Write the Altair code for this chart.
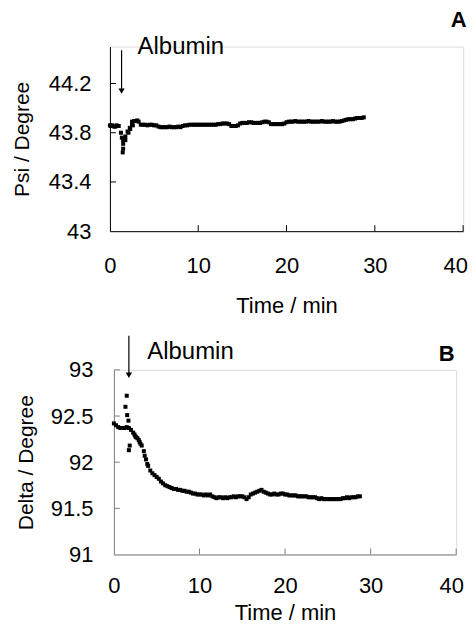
import altair as alt
import pandas as pd

# ---------------- data ----------------
time = [0, 0.25, 0.5, 0.75, 1.0, 1.25, 1.5, 1.75, 2.0, 2.25, 2.5, 2.75, 3.0, 3.25,
        3.5, 3.75, 4.0, 4.25, 4.5, 4.75, 5.0, 5.25, 5.5, 5.75, 6.0, 6.25, 6.5, 6.75,
        7.0, 7.25, 7.5, 7.75, 8.0, 8.25, 8.5, 8.75, 9.0, 9.25, 9.5, 9.75, 10.0, 10.25,
        10.5, 10.75, 11.0, 11.25, 11.5, 11.75, 12.0, 12.25, 12.5, 12.75, 13.0, 13.25,
        13.5, 13.75, 14.0, 14.25, 14.5, 14.75, 15.0, 15.25, 15.5, 15.75, 16.0, 16.25,
        16.5, 16.75, 17.0, 17.25, 17.5, 17.75, 18.0, 18.25, 18.5, 18.75, 19.0, 19.25,
        19.5, 19.75, 20.0, 20.25, 20.5, 20.75, 21.0, 21.25, 21.5, 21.75, 22.0, 22.25,
        22.5, 22.75, 23.0, 23.25, 23.5, 23.75, 24.0, 24.25, 24.5, 24.75, 25.0, 25.25,
        25.5, 25.75, 26.0, 26.25, 26.5, 26.75, 27.0, 27.25, 27.5, 27.75, 28.0, 28.25,
        28.5, 28.75]

psi = [43.86, 43.86, 43.85, 43.86, 43.855,
       43.80, 43.74, 43.77, 43.81, 43.84, 43.87, 43.895, 43.895, 43.89,
       43.865, 43.865, 43.865, 43.86, 43.865, 43.865, 43.86, 43.86,
       43.85, 43.845, 43.845, 43.845, 43.845, 43.85, 43.845, 43.845, 43.845, 43.85, 43.845, 43.855,
       43.86, 43.86, 43.865, 43.865, 43.865, 43.865, 43.865, 43.865, 43.865, 43.865, 43.865,
       43.865, 43.865, 43.865, 43.865, 43.87, 43.87,
       43.875, 43.875, 43.875, 43.87,
       43.855, 43.855, 43.855, 43.86,
       43.875, 43.88, 43.88, 43.88, 43.885, 43.885, 43.88, 43.88, 43.88, 43.88, 43.885,
       43.89, 43.89, 43.885,
       43.87, 43.87, 43.87, 43.87, 43.87, 43.87, 43.875,
       43.885, 43.89, 43.89, 43.89, 43.895, 43.89, 43.89, 43.89, 43.89, 43.89, 43.895, 43.89,
       43.89, 43.89, 43.89, 43.89, 43.895, 43.89, 43.89, 43.89, 43.89, 43.895, 43.89, 43.89,
       43.89, 43.895,
       43.90, 43.905, 43.91, 43.91, 43.91,
       43.915, 43.92, 43.92, 43.92, 43.925]

delta = [92.42, 92.40, 92.38, 92.37, 92.37, 92.37, 92.38, 92.37, 92.35, 92.32, 92.28, 92.26,
         92.22, 92.18, 92.12, 92.03, 91.96, 91.91, 91.88, 91.86, 91.84, 91.82, 91.79, 91.77,
         91.75, 91.74, 91.73, 91.72, 91.71, 91.71, 91.70, 91.70, 91.69, 91.69, 91.68, 91.68,
         91.67, 91.66, 91.66, 91.65, 91.65, 91.65, 91.64, 91.65, 91.64, 91.65, 91.63, 91.62,
         91.61, 91.62, 91.62, 91.61, 91.62, 91.61, 91.62, 91.62, 91.63, 91.62, 91.63, 91.63,
         91.63, 91.62, 91.60, 91.62, 91.65, 91.66, 91.67, 91.68, 91.69, 91.70, 91.68, 91.67,
         91.66, 91.65, 91.65, 91.66, 91.65, 91.65, 91.66, 91.66, 91.65, 91.65, 91.64, 91.64,
         91.64, 91.64, 91.63, 91.63, 91.63, 91.63, 91.63, 91.62, 91.62, 91.62, 91.62, 91.61,
         91.60, 91.61, 91.60, 91.60, 91.60, 91.60, 91.60, 91.60, 91.60, 91.60, 91.60, 91.61,
         91.61, 91.62, 91.61, 91.62, 91.62, 91.62, 91.63, 91.63]

# scattered points around the injection
psi_extra_t = [0.1, 0.6, 1.35, 1.45, 1.5, 1.5, 1.6, 1.75, 2.1, 2.3, 2.5, 2.6, 3.1]
psi_extra_v = [43.855, 43.85, 43.76, 43.64, 43.67, 43.71, 43.75, 43.74, 43.80, 43.83,
               43.89, 43.86, 43.90]
delta_extra_t = [1.35, 1.5, 1.55, 1.7, 1.75, 1.85, 2.4, 2.6, 2.9, 3.1, 3.6, 3.9]
delta_extra_v = [92.60, 92.72, 92.51, 92.45, 92.13, 92.18, 92.30, 92.27, 92.24, 92.20,
                 92.07, 91.98]

x_ticks = [0, 10, 20, 30, 40]
psi_ticks = [43, 43.4, 43.8, 44.2]
delta_ticks = [91, 91.5, 92, 92.5, 93]
psi_domain = [43, 44.5]
delta_domain = [91, 93]

# annotations: [arrow x, arrow top, arrow end, head, text x, text y, letter x, letter y]
ann_A = [1.32, 44.47, 44.155, 44.138, 3.13, 44.495, 39.5, 44.714]
ann_B = [1.75, 93.37, 92.964, 92.943, 3.9, 93.19, 38.9, 93.176]
letters = ["A", "B"]
annotation_text = "Albumin"

FONT = "Liberation Sans"


def panel(t, v, et, ev, ydom, yticks, ytitle, ann, letter, color, width, height,
          ylabpad, xlabpad, xtitle_y, last_label_shift):
    df = pd.DataFrame({"t": list(t) + list(et), "v": list(v) + list(ev)})
    xenc = alt.X("t:Q", scale=alt.Scale(domain=[0, 40], nice=False, zero=False),
                 axis=alt.Axis(values=x_ticks, title="Time / min", ticks=False, tickSize=0,
                               grid=False, labelPadding=xlabpad, labelBaseline="alphabetic",
                               labelFlush=False, labelOverlap=False, labelFontSize=22,
                               labelOffset={"condition": {"test": "datum.value == 40",
                                                          "value": last_label_shift},
                                            "value": 0},
                               labelFont=FONT, labelColor="black", titleFont=FONT,
                               titleFontSize=22, titleFontWeight=400, titleColor="black",
                               titleY=xtitle_y, titleBaseline="alphabetic",
                               domainColor=color, domainWidth=1, format="~g"))
    yenc = alt.Y("v:Q", scale=alt.Scale(domain=ydom, nice=False, zero=False),
                 axis=alt.Axis(values=yticks, title=ytitle, ticks=False, tickSize=0,
                               grid=False, labelPadding=ylabpad, labelFontSize=22,
                               labelFont=FONT, labelColor="black", labelOverlap=False,
                               labelFlush=False, titleFont=FONT, titleFontSize=21,
                               titleFontWeight=400, titleColor="black", titleX=-88,
                               titleBaseline="middle", domainColor=color, domainWidth=1,
                               format="~g"))

    pts = alt.Chart(df).mark_square(size=16, color="black", opacity=1).encode(x=xenc, y=yenc)

    xt = alt.Chart(pd.DataFrame({"t": x_ticks[1:]})).mark_rule(color=color, strokeWidth=1).encode(
        x=alt.X("t:Q"), y=alt.value(height), y2=alt.value(height - 6))
    yt = alt.Chart(pd.DataFrame({"v": yticks[1:]})).mark_rule(color=color, strokeWidth=1).encode(
        y=alt.Y("v:Q"), x=alt.value(0), x2=alt.value(6))

    arrow_df = pd.DataFrame({"t": [ann[0]], "v": [ann[1]], "v2": [ann[2]]})
    arrow = alt.Chart(arrow_df).mark_rule(color="black", strokeWidth=1.2).encode(
        x="t:Q", y="v:Q", y2="v2:Q")
    head = alt.Chart(pd.DataFrame({"t": [ann[0]], "v": [ann[3]]})).mark_point(
        shape="triangle-down", filled=True, size=40, color="black", opacity=1).encode(
        x="t:Q", y="v:Q")
    txt = alt.Chart(pd.DataFrame({"t": [ann[4]], "v": [ann[5]], "s": [annotation_text]})).mark_text(
        align="left", baseline="middle", fontSize=24, font=FONT, color="black").encode(
        x="t:Q", y="v:Q", text="s:N")
    lab = alt.Chart(pd.DataFrame({"t": [ann[6]], "v": [ann[7]], "s": [letter]})).mark_text(
        align="center", baseline="middle", fontSize=22, fontWeight="bold", font=FONT,
        color="black").encode(x="t:Q", y="v:Q", text="s:N")

    return alt.layer(pts, xt, yt, arrow, head, txt, lab).properties(width=width, height=height)


A = panel(time, psi, psi_extra_t, psi_extra_v, psi_domain, psi_ticks, "Psi / Degree",
          ann_A, letters[0], "black", 354, 185, 19, 41, 81, -8)
B = panel(time, delta, delta_extra_t, delta_extra_v, delta_domain, delta_ticks,
          "Delta / Degree", ann_B, letters[1], "#808080", 343, 185, 21, 38, 65, -5)

chart = alt.vconcat(A, B, spacing=17, center=True).properties(
    padding={"left": 2, "top": 0, "right": 0, "bottom": 0}
).configure_view(stroke=None).configure(background="white").configure_axis(
    titleFontWeight=400, labelFontWeight=400)

chart.save("out.html", embed_options={"renderer": "svg", "actions": False})
